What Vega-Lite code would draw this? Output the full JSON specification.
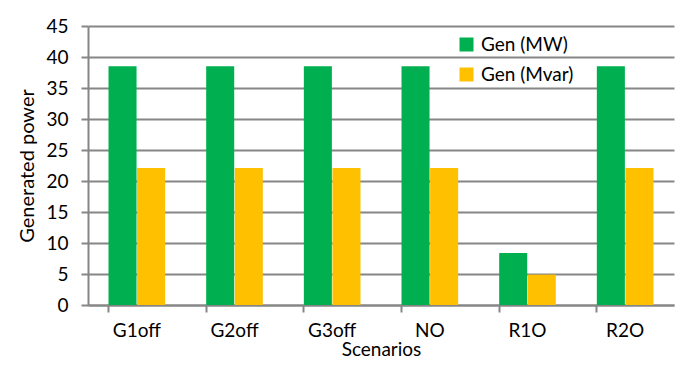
{
  "$schema": "https://vega.github.io/schema/vega-lite/v6.json",
  "width": 586,
  "height": 279,
  "autosize": {"type": "none"},
  "padding": {"left": 88, "top": 26, "right": 26, "bottom": 70},
  "background": "white",
  "config": {
    "view": {"stroke": null},
    "font": "Lato",
    "axis": {"labelFont": "Lato", "titleFont": "Lato", "labelColor": "#000000", "titleColor": "#000000", "titleFontWeight": "normal"}
  },
  "data": {
    "values": [
      {"scenario": "G1off", "series": "Gen (MW)", "value": 38.5},
      {"scenario": "G1off", "series": "Gen (Mvar)", "value": 22.1},
      {"scenario": "G2off", "series": "Gen (MW)", "value": 38.5},
      {"scenario": "G2off", "series": "Gen (Mvar)", "value": 22.1},
      {"scenario": "G3off", "series": "Gen (MW)", "value": 38.5},
      {"scenario": "G3off", "series": "Gen (Mvar)", "value": 22.1},
      {"scenario": "NO", "series": "Gen (MW)", "value": 38.5},
      {"scenario": "NO", "series": "Gen (Mvar)", "value": 22.1},
      {"scenario": "R1O", "series": "Gen (MW)", "value": 8.4},
      {"scenario": "R1O", "series": "Gen (Mvar)", "value": 4.9},
      {"scenario": "R2O", "series": "Gen (MW)", "value": 38.5},
      {"scenario": "R2O", "series": "Gen (Mvar)", "value": 22.1}
    ]
  },
  "mark": {"type": "bar"},
  "encoding": {
    "x": {
      "field": "scenario",
      "type": "nominal",
      "sort": null,
      "scale": {"paddingInner": 0.42, "paddingOuter": 0.21},
      "axis": {
        "title": "Scenarios",
        "titleFontSize": 19,
        "titlePadding": 0,
        "labelFontSize": 19,
        "labelAngle": 0,
        "labelPadding": 9,
        "bandPosition": 0,
        "tickSize": 7,
        "tickColor": "#868686",
        "tickWidth": 2,
        "domainColor": "#868686",
        "domainWidth": 2,
        "grid": false
      }
    },
    "xOffset": {"field": "series", "type": "nominal", "sort": ["Gen (MW)", "Gen (Mvar)"], "scale": {"paddingInner": 0.02}},
    "y": {
      "field": "value",
      "type": "quantitative",
      "scale": {"domain": [0, 45], "nice": false},
      "axis": {
        "title": "Generated power",
        "titleFontSize": 20,
        "titlePadding": 8,
        "labelFontSize": 19,
        "labelPadding": 13,
        "values": [0, 5, 10, 15, 20, 25, 30, 35, 40, 45],
        "tickSize": 7,
        "tickColor": "#868686",
        "tickWidth": 2,
        "domainColor": "#868686",
        "domainWidth": 2,
        "grid": true,
        "gridColor": "#868686",
        "gridWidth": 2
      }
    },
    "color": {
      "field": "series",
      "type": "nominal",
      "sort": ["Gen (MW)", "Gen (Mvar)"],
      "scale": {"domain": ["Gen (MW)", "Gen (Mvar)"], "range": ["#00B050", "#FFC000"]},
      "legend": {
        "title": null,
        "orient": "none",
        "legendX": 369,
        "legendY": 9,
        "symbolType": "square",
        "symbolSize": 196,
        "symbolStrokeWidth": 0,
        "labelFontSize": 19,
        "labelFont": "Lato",
        "labelColor": "#000000",
        "rowPadding": 10,
        "labelOffset": 5
      }
    }
  }
}
